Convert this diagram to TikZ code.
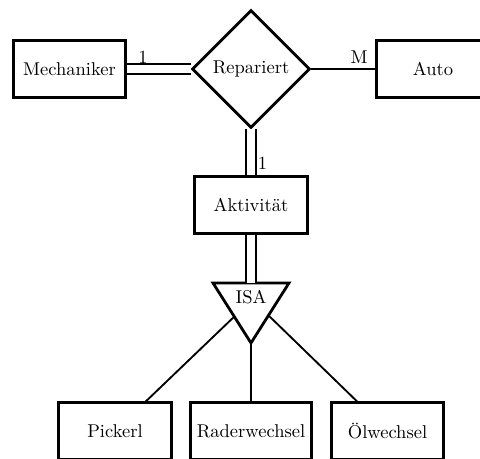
\documentclass[tikz,border=0pt]{standalone}
\usetikzlibrary{shapes.geometric,calc}
\begin{document}
\begin{tikzpicture}[x=0.54pt,y=-0.54pt,
  entity/.style={draw,line width=1.5pt,minimum width=60.8pt,minimum height=30.4pt,inner sep=3.4pt},
  rel/.style={draw,diamond,aspect=1,line width=1.5pt,minimum width=63.7pt,minimum height=63.7pt,inner sep=0pt},
  conn/.style={line width=1pt},
  dbl/.style={line width=0.9pt,double,double distance=4.4pt},
  card/.style={inner sep=0pt}]
\useasboundingbox (0,0) rectangle (480,459);
\node[entity] (mech) at (69.5,69) {Mechaniker};
\node[rel] (rep) at (251,69) {Repariert};
\node[entity] (auto) at (433,69) {Auto};
\node[entity] (akt) at (251,205) {Aktivität};
\node[entity] (pick) at (115,431) {Pickerl};
\node[entity] (rad) at (251,431) {Raderwechsel};
\node[entity] (oel) at (387.5,431) {Ölwechsel};
% ISA triangle
\coordinate (tl) at (213,283);
\coordinate (tr) at (289,283);
\coordinate (tb) at (251,343);
\draw[line width=1.5pt,line join=miter] (tl) -- (tr) -- (tb) -- cycle;
\node[inner sep=0pt] (isa) at (251,297) {ISA};
\coordinate (sl) at ($(tl)!0.56!(tb)$);
\coordinate (sr) at ($(tr)!0.54!(tb)$);
% connectors
\draw[dbl] (mech.east) -- (rep.west);
\draw[conn] (rep.east) -- (auto.west);
\draw[dbl] (rep.south) -- (akt.north);
\draw[dbl] (akt.south) -- (akt.south |- tl);
\draw[conn] (sl) -- (pick);
\draw[conn] (tb) -- (tb |- rad.north);
\draw[conn] (sr) -- (oel);
% cardinalities
\node[card] (c1) at (143,57) {1};
\node[card] (cm) at (359,57) {M};
\node[card] (c2) at (262.5,163) {1};
\end{tikzpicture}
\end{document}
